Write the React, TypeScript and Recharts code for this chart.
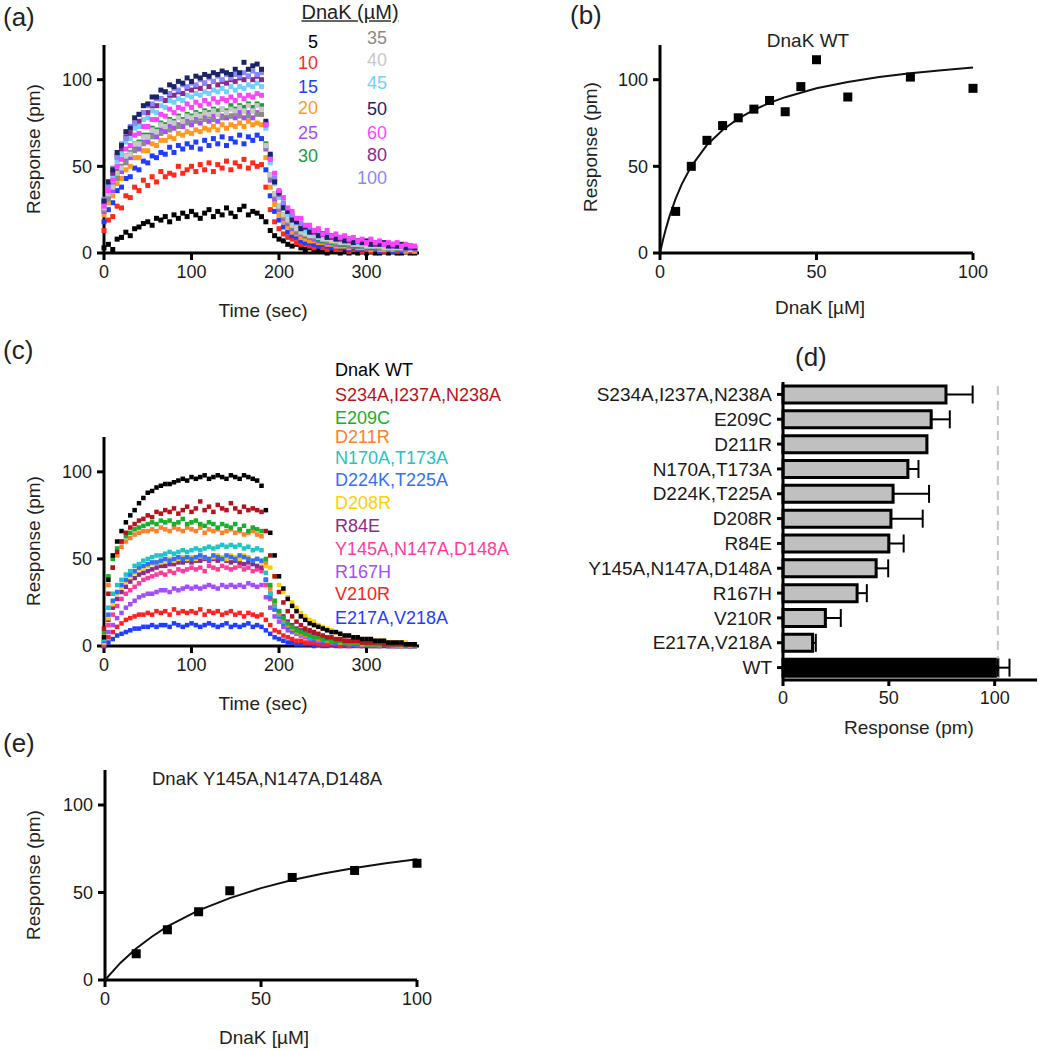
import React from 'react';
import { ScatterChart, Scatter, XAxis, YAxis, BarChart, Bar, Cell, ErrorBar, ReferenceLine } from 'recharts';

const FONT = '"Liberation Sans", Arial, Helvetica, sans-serif';

// ---------- shared time grid (sec) for panels (a) and (c) ----------
const TIMES = [0, 5, 10, 15, 20, 25, 30, 35, 40, 45, 50, 55, 60, 65, 70, 75, 80, 85, 90, 95, 100, 105, 110, 115, 120, 125, 130, 135, 140, 145, 150, 155, 160, 165, 170, 175, 180,
  185, 190, 195, 200, 205, 210, 215, 220, 225, 230, 235, 240, 245, 250, 255, 260, 265, 270, 275, 280, 285, 290, 295, 300, 305, 310, 315, 320, 325, 330, 335, 340, 345, 350, 355];

// ---------- panel (a): DnaK WT concentration series (association 0-180 s, dissociation 185-355 s) ----------
const A_LABELS = ['5', '10', '15', '20', '25', '30', '35', '40', '45', '50', '60', '80', '100'];
const A_5 = [3, 5, 2, 8, 9, 12, 10, 14, 15, 17, 18, 16, 20, 19, 21, 18, 22, 20, 23, 21, 24, 22, 20, 23, 25, 21, 24, 22, 26, 23, 21, 25, 27, 22, 24, 23, 21,
  18, 13, 10, 8, 7, 5, 4, 5, 3, 2, 3, 1, 2, 1, 0, 1, 2, 0, 1, 0, 1, 0, 1, 0, 1, 0, 0, 1, 0, 1, 0, 0, 1, 0, 0];
const A_10 = [13, 19, 21, 27, 26, 33, 32, 38, 36, 42, 39, 44, 41, 47, 44, 46, 45, 50, 46, 48, 50, 47, 51, 48, 52, 47, 51, 49, 53, 48, 52, 50, 54, 49, 52, 50, 51,
  38, 25, 18, 14, 11, 9, 8, 6, 5, 5, 4, 3, 4, 3, 2, 3, 2, 2, 3, 1, 2, 2, 1, 2, 1, 2, 1, 1, 2, 1, 1, 2, 1, 1, 1];
const A_15 = [18, 25, 29, 36, 38, 43, 44, 49, 48, 53, 52, 56, 55, 58, 57, 61, 58, 62, 60, 63, 61, 64, 60, 65, 62, 66, 63, 67, 62, 66, 64, 68, 63, 67, 65, 68, 66,
  48, 33, 24, 19, 15, 12, 10, 9, 7, 6, 6, 5, 4, 5, 4, 3, 4, 3, 3, 2, 3, 2, 2, 3, 2, 2, 1, 2, 2, 1, 2, 1, 1, 2, 1];
const A_20 = [22, 29, 33, 40, 43, 48, 50, 55, 55, 59, 59, 63, 62, 65, 65, 67, 66, 69, 68, 70, 69, 71, 70, 72, 71, 73, 71, 74, 72, 74, 73, 75, 73, 76, 74, 75, 74,
  55, 38, 28, 22, 18, 15, 12, 11, 9, 8, 7, 7, 6, 6, 5, 5, 4, 4, 4, 3, 4, 3, 3, 3, 2, 3, 2, 2, 2, 2, 2, 2, 1, 2, 1];
const A_25 = [24, 32, 36, 44, 47, 53, 55, 60, 60, 64, 64, 68, 67, 71, 70, 73, 72, 74, 73, 76, 74, 77, 75, 78, 76, 79, 76, 79, 78, 79, 78, 81, 78, 81, 78, 81, 80,
  60, 42, 31, 25, 20, 17, 14, 12, 11, 10, 9, 8, 7, 7, 6, 6, 5, 5, 5, 4, 4, 4, 4, 3, 3, 3, 3, 3, 2, 3, 2, 2, 2, 2, 2];
const A_30 = [26, 34, 39, 47, 50, 56, 58, 63, 64, 68, 68, 72, 71, 75, 74, 77, 76, 79, 77, 80, 79, 81, 80, 82, 81, 83, 82, 83, 82, 85, 83, 85, 84, 86, 84, 86, 85,
  63, 45, 34, 27, 22, 18, 15, 13, 12, 10, 10, 9, 8, 7, 7, 6, 6, 5, 5, 5, 4, 4, 4, 4, 3, 3, 3, 3, 3, 3, 2, 3, 2, 2, 2];
const A_35 = [25, 31, 39, 43, 50, 52, 58, 59, 63, 63, 67, 67, 70, 69, 73, 71, 75, 73, 76, 75, 77, 76, 78, 77, 79, 77, 80, 78, 80, 79, 81, 79, 82, 79, 82, 80, 80,
  61, 44, 33, 26, 21, 18, 15, 13, 12, 11, 10, 9, 9, 8, 7, 7, 6, 6, 6, 5, 5, 5, 4, 4, 4, 4, 3, 3, 3, 3, 3, 3, 2, 3, 2];
const A_40 = [26, 34, 38, 46, 49, 56, 57, 63, 63, 67, 67, 71, 70, 74, 73, 76, 75, 78, 76, 79, 78, 80, 79, 81, 80, 82, 80, 83, 81, 83, 82, 84, 82, 85, 82, 85, 83,
  62, 45, 34, 27, 22, 19, 16, 14, 12, 11, 10, 10, 9, 8, 8, 7, 7, 6, 6, 6, 5, 5, 5, 4, 4, 4, 4, 3, 3, 3, 3, 3, 3, 2, 3];
const A_45 = [28, 38, 44, 53, 57, 64, 66, 72, 73, 77, 78, 82, 81, 85, 84, 88, 87, 89, 88, 91, 90, 92, 91, 93, 92, 94, 93, 95, 93, 96, 94, 96, 95, 97, 96, 98, 96,
  72, 52, 40, 32, 26, 22, 19, 17, 15, 13, 12, 11, 10, 10, 9, 9, 8, 8, 7, 7, 7, 6, 6, 6, 5, 5, 5, 5, 4, 4, 4, 4, 4, 3, 3];
const A_50 = [30, 41, 48, 58, 62, 70, 72, 78, 80, 85, 86, 90, 90, 94, 93, 97, 96, 99, 98, 101, 99, 102, 101, 103, 102, 104, 103, 105, 104, 103, 106, 104, 110, 106, 108, 109, 106,
  76, 57, 41, 35, 26, 24, 19, 18, 14, 15, 12, 13, 10, 11, 9, 10, 8, 9, 7, 8, 6, 7, 6, 7, 5, 6, 5, 6, 4, 5, 4, 5, 3, 4, 3];
const A_60 = [27, 36, 42, 50, 54, 60, 62, 68, 69, 73, 73, 77, 77, 80, 79, 83, 81, 84, 83, 86, 84, 87, 85, 88, 86, 89, 87, 89, 88, 90, 88, 91, 89, 91, 90, 92, 91,
  74, 54, 46, 36, 32, 26, 24, 20, 20, 16, 16, 13, 14, 11, 13, 10, 11, 9, 10, 8, 9, 7, 8, 6, 8, 6, 7, 5, 6, 5, 6, 4, 5, 4, 4];
const A_80 = [29, 41, 46, 56, 60, 67, 69, 75, 76, 81, 81, 85, 85, 89, 88, 91, 91, 93, 92, 95, 94, 96, 95, 98, 96, 99, 97, 99, 98, 100, 99, 101, 100, 102, 100, 102, 100,
  74, 55, 42, 34, 28, 24, 21, 18, 16, 15, 13, 12, 11, 11, 10, 9, 9, 8, 8, 7, 7, 7, 6, 6, 6, 5, 5, 5, 5, 4, 4, 4, 4, 3, 3];
const A_100 = [31, 39, 49, 55, 63, 66, 73, 75, 80, 81, 85, 86, 89, 89, 93, 92, 95, 94, 97, 96, 98, 97, 100, 98, 101, 99, 102, 100, 103, 101, 103, 102, 104, 102, 105, 103, 104,
  75, 56, 43, 35, 29, 25, 21, 19, 17, 15, 14, 13, 12, 11, 10, 10, 9, 9, 8, 8, 7, 7, 7, 6, 6, 6, 5, 5, 5, 5, 4, 4, 4, 4, 3];
const A_VALUES = [A_5, A_10, A_15, A_20, A_25, A_30, A_35, A_40, A_45, A_50, A_60, A_80, A_100];
const A_COLORS = ['#000000', '#ff2a1a', '#1f3cff', '#ff9a1f', '#a64dff', '#1f9c3c', '#8a8a8a', '#c8c8c8', '#72d0ff', '#1c2468', '#ff44ff', '#8b2a8b', '#8888ff'];
const A_DRAW_ORDER = [0, 1, 2, 3, 4, 5, 6, 7, 8, 11, 12, 9, 10];

// ---------- panel (b): DnaK WT binding ----------
const B_CONC = [5, 10, 15, 20, 25, 30, 35, 40, 45, 50, 60, 80, 100];
const B_RESP = [24, 50, 65, 73.5, 78, 83, 88, 81.5, 96, 111.5, 90, 101.5, 95];
const B_FIT_X = [0, 1, 2, 3, 5, 7, 10, 15, 20, 25, 30, 35, 40, 50, 60, 70, 80, 90, 100];
const B_FIT_Y = [0, 7.9, 14.8, 21.0, 31.4, 39.9, 50.0, 62.3, 71.0, 77.5, 82.6, 86.6, 89.9, 95.0, 98.7, 101.5, 103.7, 105.5, 107.0];

// ---------- panel (c): mutant traces ----------
const C_NAMES = ['DnaK WT', 'S234A,I237A,N238A', 'E209C', 'D211R', 'N170A,T173A', 'D224K,T225A', 'D208R', 'R84E', 'Y145A,N147A,D148A', 'R167H', 'V210R', 'E217A,V218A'];
const C_WT = [5, 38, 52, 60, 66, 71, 75, 78, 82, 85, 88, 89, 91, 92, 93, 93, 94, 95, 96, 95, 97, 96, 97, 98, 96, 97, 98, 97, 96, 98, 97, 96, 98, 97, 96, 95, 92,
  78, 65, 52, 40, 33, 27, 23, 20, 17, 15, 13, 12, 11, 10, 9, 8, 8, 7, 6, 6, 5, 5, 4, 4, 4, 3, 3, 3, 2, 2, 2, 2, 1, 1, 1];
const C_S234A = [10, 30, 45, 54, 60, 65, 68, 70, 72, 73, 75, 74, 77, 76, 78, 77, 79, 76, 78, 80, 77, 79, 83, 78, 80, 77, 81, 79, 78, 82, 79, 77, 80, 78, 79, 78, 77,
  66, 52, 40, 31, 25, 20, 17, 14, 12, 10, 9, 8, 7, 6, 5, 5, 4, 4, 3, 3, 3, 3, 2, 2, 2, 2, 2, 1, 1, 1, 1, 1, 1, 1, 1];
const C_E209C = [8, 40, 50, 56, 60, 63, 65, 67, 68, 69, 70, 71, 70, 72, 71, 72, 70, 71, 73, 70, 71, 72, 70, 69, 71, 70, 68, 70, 69, 68, 70, 67, 69, 66, 68, 67, 66,
  50, 35, 26, 20, 16, 13, 11, 9, 8, 7, 6, 5, 5, 4, 4, 3, 3, 3, 2, 2, 2, 2, 2, 1, 1, 1, 1, 1, 1, 1, 1, 1, 0, 1, 0];
const C_D211R = [6, 35, 45, 52, 57, 60, 62, 64, 65, 66, 66, 67, 66, 68, 67, 66, 68, 67, 66, 68, 67, 66, 68, 65, 67, 66, 67, 65, 66, 67, 65, 66, 64, 65, 66, 64, 63,
  48, 33, 25, 19, 15, 12, 10, 8, 7, 6, 6, 5, 4, 4, 3, 3, 3, 2, 2, 2, 2, 2, 1, 1, 1, 1, 1, 1, 1, 1, 1, 0, 1, 0, 1];
const C_N170A = [4, 22, 30, 35, 38, 41, 43, 46, 47, 49, 50, 51, 52, 52, 53, 54, 53, 54, 55, 54, 55, 56, 55, 56, 57, 56, 57, 58, 57, 58, 57, 58, 56, 57, 55, 56, 55,
  42, 30, 23, 18, 14, 12, 10, 8, 7, 6, 5, 5, 4, 4, 3, 3, 3, 2, 2, 2, 2, 2, 1, 1, 1, 1, 1, 1, 1, 1, 0, 1, 0, 1, 0];
const C_D224K = [3, 18, 26, 31, 35, 38, 41, 43, 45, 46, 47, 48, 48, 49, 50, 49, 50, 51, 50, 51, 50, 51, 52, 51, 50, 52, 51, 50, 52, 51, 50, 52, 51, 50, 49, 50, 49,
  38, 28, 21, 17, 13, 11, 9, 8, 7, 6, 5, 4, 4, 3, 3, 3, 2, 2, 2, 2, 1, 1, 1, 1, 1, 1, 1, 1, 0, 1, 0, 1, 0, 0, 1];
const C_D208R = [2, 16, 24, 30, 34, 37, 40, 42, 44, 45, 46, 47, 48, 48, 49, 50, 49, 50, 51, 50, 51, 50, 52, 51, 50, 51, 52, 51, 50, 52, 51, 50, 52, 51, 49, 50, 48,
  46, 45, 40, 35, 31, 28, 25, 22, 19, 17, 15, 14, 12, 11, 10, 9, 8, 7, 6, 6, 5, 5, 4, 4, 4, 3, 3, 3, 2, 2, 2, 2, 2, 1, 1];
const C_R84E = [2, 15, 22, 27, 31, 34, 37, 39, 41, 42, 43, 44, 45, 46, 46, 47, 47, 48, 48, 49, 48, 49, 49, 50, 49, 50, 49, 50, 49, 48, 49, 48, 47, 48, 47, 46, 45,
  38, 30, 24, 20, 17, 14, 12, 10, 9, 8, 7, 6, 5, 5, 4, 4, 3, 3, 3, 2, 2, 2, 2, 2, 1, 1, 1, 1, 1, 1, 1, 1, 1, 0, 1];
const C_Y145A = [1, 12, 18, 23, 27, 30, 32, 34, 36, 38, 39, 40, 41, 42, 41, 43, 42, 44, 43, 44, 45, 44, 45, 43, 46, 45, 44, 46, 45, 44, 45, 46, 44, 45, 43, 44, 43,
  35, 27, 21, 17, 14, 12, 10, 9, 7, 6, 5, 5, 4, 4, 3, 3, 3, 2, 2, 2, 2, 1, 1, 1, 1, 1, 1, 1, 1, 0, 1, 0, 1, 0, 0];
const C_R167H = [1, 8, 12, 16, 19, 22, 24, 26, 28, 29, 30, 30, 31, 32, 32, 31, 33, 32, 33, 34, 33, 34, 33, 34, 35, 34, 33, 35, 34, 35, 34, 35, 34, 36, 35, 34, 35,
  28, 22, 17, 14, 11, 9, 8, 7, 6, 5, 4, 4, 3, 3, 3, 2, 2, 2, 2, 1, 1, 1, 1, 1, 1, 1, 0, 1, 0, 1, 0, 0, 1, 0, 0];
const C_V210R = [0, 5, 8, 11, 13, 15, 16, 17, 18, 18, 19, 18, 20, 19, 20, 18, 21, 19, 20, 19, 20, 19, 21, 18, 20, 19, 20, 18, 19, 20, 18, 19, 17, 19, 18, 17, 18,
  15, 12, 9, 8, 6, 5, 4, 3, 3, 2, 2, 2, 1, 1, 1, 1, 1, 0, 1, 0, 1, 0, 0, 1, 0, 0, 0, 1, 0, 0, 0, 0, 0, 0, 0];
const C_E217A = [0, 2, 4, 6, 7, 8, 9, 10, 10, 11, 11, 12, 11, 12, 12, 11, 13, 12, 11, 12, 13, 12, 11, 12, 13, 12, 11, 12, 13, 11, 12, 11, 12, 13, 11, 12, 11,
  9, 7, 5, 4, 3, 2, 2, 1, 1, 1, 1, 0, 1, 0, 0, 1, 0, 0, 0, 0, 0, 1, 0, 0, 0, 0, 0, 0, 0, 0, 0, 0, 0, 0, 0];
const C_VALUES = [C_WT, C_S234A, C_E209C, C_D211R, C_N170A, C_D224K, C_D208R, C_R84E, C_Y145A, C_R167H, C_V210R, C_E217A];
const C_COLORS = ['#000000', '#b8121c', '#16b02c', '#ff7f2a', '#1fc4c4', '#3070ff', '#ffd000', '#8b2a8b', '#ff3d99', '#a24dff', '#ff2020', '#1f3dff'];

// ---------- panel (d): bar summary ----------
const D_NAMES = ['S234A,I237A,N238A', 'E209C', 'D211R', 'N170A,T173A', 'D224K,T225A', 'D208R', 'R84E', 'Y145A,N147A,D148A', 'R167H', 'V210R', 'E217A,V218A', 'WT'];
const D_VALUES = [77, 70, 68, 59, 52, 51, 50, 44, 35, 20, 14, 101.5];
const D_ERRORS = [12.6, 8.8, 0, 5, 17, 15, 7, 5.7, 4.6, 7.3, 1.5, 5.5];
const D_WT_LEVEL = 101.5;

// ---------- panel (e): triple mutant binding ----------
const E_CONC = [10, 20, 30, 40, 60, 80, 100];
const E_RESP = [15, 28.7, 39, 51, 58.6, 62.6, 66.7];
const E_FIT_X = [0, 5, 10, 15, 20, 30, 40, 50, 60, 70, 80, 90, 100];
const E_FIT_Y = [0, 9.9, 18.0, 24.7, 30.6, 39.8, 46.8, 52.5, 57.1, 60.8, 64.0, 66.7, 69.0];

// ---------- helpers ----------
const toPts = (xs: number[], ys: number[]) => ys.map((y, i) => ({ x: xs[i], y }));
const sq = (color: string, s: number) => (p: any) => (
  <rect x={p.cx - s / 2} y={p.cy - s / 2} width={s} height={s} fill={color} />
);
const noShape = () => <g />;

const axisLine = { stroke: '#000', strokeWidth: 3 };
const tickLine = { stroke: '#000', strokeWidth: 3 };
const tick = { fill: '#1a1a1a', fontSize: 18, fontFamily: FONT };
const axisCommon = { axisLine, tickLine, stroke: '#000', strokeWidth: 3, tick, tickMargin: 5, interval: 0 as const };

function T({ x, y, children, anchor = 'middle', rotate = false, size = 19, color = '#222', underline = false }: any) {
  const tx = anchor === 'start' ? '0' : anchor === 'end' ? '-100%' : '-50%';
  return (
    <div
      style={{
        position: 'absolute',
        left: x,
        top: y,
        transform: `translate(${tx},-50%)${rotate ? ' rotate(-90deg)' : ''}`,
        fontSize: size,
        fontFamily: FONT,
        color,
        whiteSpace: 'nowrap',
        lineHeight: 1,
        textDecoration: underline ? 'underline' : 'none',
        textDecorationColor: '#666',
        textDecorationThickness: underline ? 2 : undefined,
      }}
    >
      {children}
    </div>
  );
}

function Box({ left, top, children }: any) {
  return <div style={{ position: 'absolute', left, top }}>{children}</div>;
}

const A_LEFT_ROWS = [42, 63, 87, 108, 133, 156];
const A_RIGHT_ROWS = [38, 60, 83, 109, 133, 155, 178];
const C_ROWS = [370, 395, 418, 437, 458, 480, 503, 526, 549, 572, 594, 618];

export default function App() {
  const barData = D_NAMES.map((name, i) => ({ name, value: D_VALUES[i], err: [0, D_ERRORS[i]] }));
  return (
    <div style={{ position: 'absolute', left: 0, top: 0, width: 1039, height: 1050, background: '#fff', overflow: 'hidden' }}>
      {/* ---------------- (a) ---------------- */}
      <Box left={0} top={0}>
        <ScatterChart width={440} height={300} margin={{ top: 45, right: 21, left: 0, bottom: 0 }}>
          <XAxis type="number" dataKey="x" domain={[0, 360]} ticks={[0, 100, 200, 300]} height={47} tickSize={7} {...axisCommon} />
          <YAxis type="number" dataKey="y" domain={[0, 120]} ticks={[0, 50, 100]} width={104} tickSize={7} {...axisCommon} />
          {A_DRAW_ORDER.map((k) => (
            <Scatter key={A_LABELS[k]} name={A_LABELS[k]} data={toPts(TIMES, A_VALUES[k])} shape={sq(A_COLORS[k], 5)} isAnimationActive={false} />
          ))}
        </ScatterChart>
      </Box>
      <T x={3} y={17} anchor="start" size={26}>(a)</T>
      <T x={350} y={12} size={20} underline>DnaK (µM)</T>
      {A_LABELS.slice(0, 6).map((l, i) => (
        <T key={l} x={318} y={A_LEFT_ROWS[i]} anchor="end" size={18} color={A_COLORS[i]}>{l}</T>
      ))}
      {A_LABELS.slice(6).map((l, i) => (
        <T key={l} x={387} y={A_RIGHT_ROWS[i]} anchor="end" size={18} color={A_COLORS[i + 6]}>{l}</T>
      ))}
      <T x={33} y={149} rotate>Response (pm)</T>
      <T x={263} y={310}>Time (sec)</T>

      {/* ---------------- (b) ---------------- */}
      <Box left={520} top={0}>
        <ScatterChart width={480} height={300} margin={{ top: 45, right: 27, left: 0, bottom: 0 }}>
          <XAxis type="number" dataKey="x" domain={[0, 100]} ticks={[0, 50, 100]} height={47} tickSize={7} {...axisCommon} />
          <YAxis type="number" dataKey="y" domain={[0, 120]} ticks={[0, 50, 100]} width={140} tickSize={7} {...axisCommon} />
          <Scatter name="fit" data={toPts(B_FIT_X, B_FIT_Y)} line={{ stroke: '#111', strokeWidth: 2 }} lineType="joint" shape={noShape} isAnimationActive={false} />
          <Scatter name="DnaK WT" data={toPts(B_CONC, B_RESP)} shape={sq('#000', 9)} isAnimationActive={false} />
        </ScatterChart>
      </Box>
      <T x={570} y={15} anchor="start" size={26}>(b)</T>
      <T x={808} y={40}>DnaK WT</T>
      <T x={590} y={147} rotate>Response (pm)</T>
      <T x={820} y={307}>DnaK [µM]</T>

      {/* ---------------- (c) ---------------- */}
      <Box left={0} top={330}>
        <ScatterChart width={440} height={363} margin={{ top: 107, right: 21, left: 0, bottom: 0 }}>
          <XAxis type="number" dataKey="x" domain={[0, 360]} ticks={[0, 100, 200, 300]} height={47} tickSize={7} {...axisCommon} />
          <YAxis type="number" dataKey="y" domain={[0, 120]} ticks={[0, 50, 100]} width={104} tickSize={7} {...axisCommon} />
          {C_NAMES.map((_, j) => {
            const k = C_NAMES.length - 1 - j;
            return (
              <Scatter key={C_NAMES[k]} name={C_NAMES[k]} data={toPts(TIMES, C_VALUES[k])} shape={sq(C_COLORS[k], 4.5)} isAnimationActive={false} />
            );
          })}
        </ScatterChart>
      </Box>
      <T x={3} y={350} anchor="start" size={26}>(c)</T>
      {C_NAMES.map((n, i) => (
        <T key={n} x={335} y={C_ROWS[i]} anchor="start" size={18} color={C_COLORS[i]}>{n}</T>
      ))}
      <T x={33} y={541} rotate>Response (pm)</T>
      <T x={263} y={703}>Time (sec)</T>

      {/* ---------------- (d) ---------------- */}
      <Box left={560} top={330}>
        <BarChart layout="vertical" width={479} height={400} data={barData} margin={{ top: 52, right: 2, left: 0, bottom: 0 }}>
          <XAxis type="number" domain={[0, 120]} ticks={[0, 50, 100]} height={50} tickSize={6} {...axisCommon} />
          <YAxis type="category" dataKey="name" width={223} tickSize={6} {...axisCommon} tick={{ ...tick, fontSize: 19 }} />
          <ReferenceLine x={D_WT_LEVEL} stroke="#c4c4c4" strokeWidth={2} strokeDasharray="9 6" />
          <Bar dataKey="value" barSize={17} stroke="#000" strokeWidth={3} isAnimationActive={false}>
            {barData.map((d) => (
              <Cell key={d.name} fill={d.name === 'WT' ? '#000' : '#c0c0c0'} />
            ))}
            <ErrorBar dataKey="err" direction="x" width={9} stroke="#000" strokeWidth={2} />
          </Bar>
        </BarChart>
      </Box>
      <T x={795} y={357} anchor="start" size={26}>(d)</T>
      <T x={909} y={727}>Response (pm)</T>

      {/* ---------------- (e) ---------------- */}
      <Box left={0} top={700}>
        <ScatterChart width={440} height={327} margin={{ top: 70, right: 23, left: 0, bottom: 0 }}>
          <XAxis type="number" dataKey="x" domain={[0, 100]} ticks={[0, 50, 100]} height={47} tickSize={7} {...axisCommon} />
          <YAxis type="number" dataKey="y" domain={[0, 120]} ticks={[0, 50, 100]} width={105} tickSize={7} {...axisCommon} />
          <Scatter name="fit" data={toPts(E_FIT_X, E_FIT_Y)} line={{ stroke: '#111', strokeWidth: 2 }} lineType="joint" shape={noShape} isAnimationActive={false} />
          <Scatter name="DnaK Y145A,N147A,D148A" data={toPts(E_CONC, E_RESP)} shape={sq('#000', 9)} isAnimationActive={false} />
        </ScatterChart>
      </Box>
      <T x={3} y={743} anchor="start" size={26}>(e)</T>
      <T x={267} y={779} size={18.5}>DnaK Y145A,N147A,D148A</T>
      <T x={33} y={875} rotate>Response (pm)</T>
      <T x={264} y={1037}>DnaK [µM]</T>
    </div>
  );
}
